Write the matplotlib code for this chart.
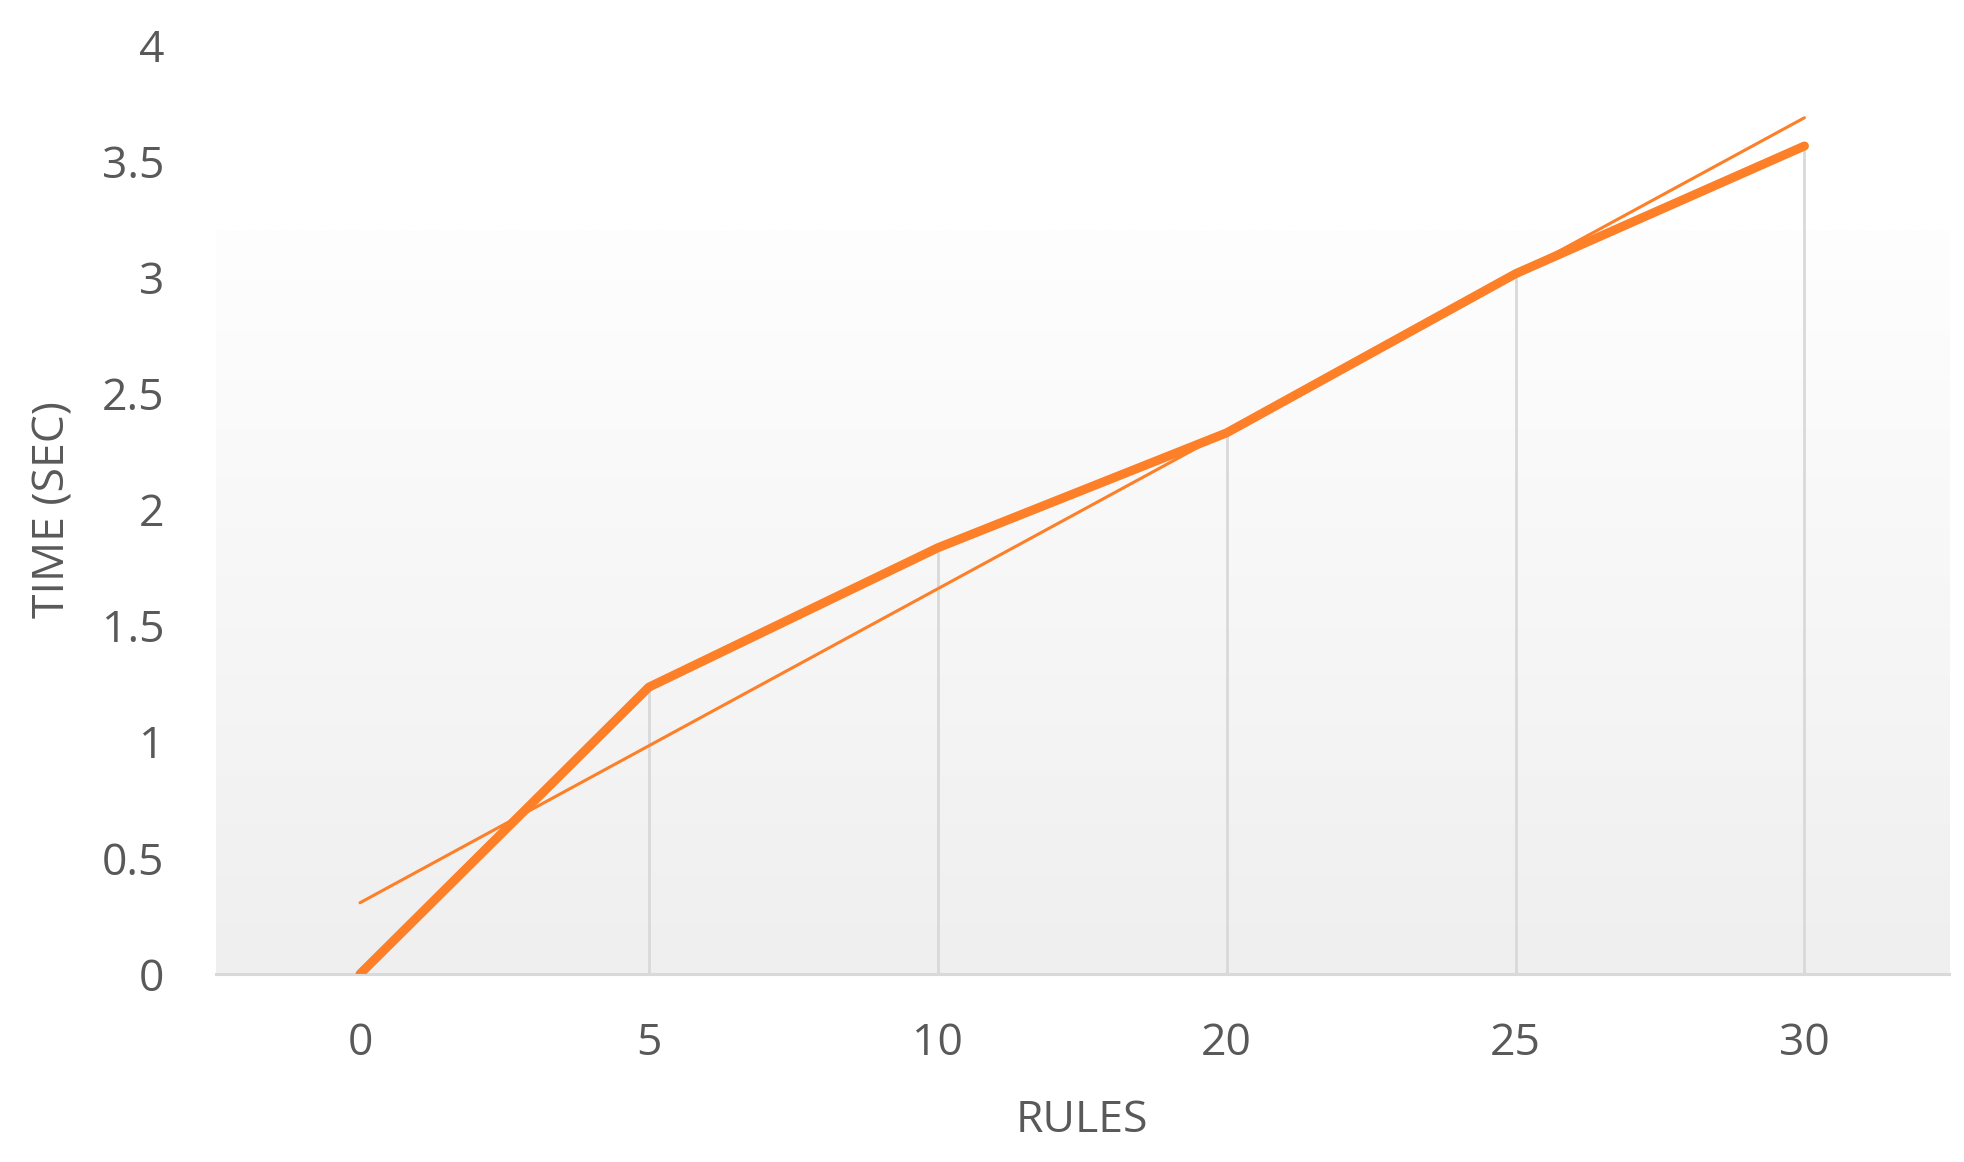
import numpy as np
import matplotlib
matplotlib.use("Agg")
import matplotlib.pyplot as plt
from matplotlib.colors import LinearSegmentedColormap

categories = ["0", "5", "10", "20", "25", "30"]
times = [0.0, 1.235, 1.835, 2.33, 3.015, 3.565]
y_ticks = [0, 0.5, 1, 1.5, 2, 2.5, 3, 3.5, 4]
x_label = "RULES"
y_label = "TIME (SEC)"

plt.rcParams['font.family'] = ['Open Sans', 'DejaVu Sans']
orange = '#fd7f27'
text_col = '#595959'

fig = plt.figure(figsize=(19.65, 11.62), dpi=100)
ax = fig.add_axes([0.1097, 0.1618, 0.9918 - 0.1097, 0.9613 - 0.1618])

x = np.arange(len(categories))

# background gradient
cmap = LinearSegmentedColormap.from_list('bg', ['#efefef', '#fefefe'])
grad = np.linspace(0, 1, 256).reshape(-1, 1)
ax.imshow(grad, extent=[-0.5, len(categories) - 0.5, 0, 3.2], origin='lower',
          aspect='auto', cmap=cmap, zorder=0, interpolation='bilinear')

# drop lines
ax.vlines(x, 0, times, color='#d9d9d9', lw=2.0, zorder=1)

# linear trendline
coef = np.polyfit(x, times, 1)
ax.plot(x, np.polyval(coef, x), color=orange, lw=2.2, solid_capstyle='round', zorder=2)

# data line
ax.plot(x, times, color=orange, lw=6.5, solid_capstyle='round',
        solid_joinstyle='round', zorder=3)

ax.set_xlim(-0.5, len(categories) - 0.5)
ax.set_ylim(0, 4)
ax.set_xticks(x)
ax.set_xticklabels(categories)
ax.set_yticks(y_ticks)
ax.set_yticklabels([f"{v:g}" for v in y_ticks])
ax.tick_params(axis='both', length=0, labelsize=32, colors=text_col)
ax.tick_params(axis='y', pad=37)
ax.tick_params(axis='x', pad=34)

for s in ['top', 'right', 'left']:
    ax.spines[s].set_visible(False)
ax.spines['bottom'].set_color('#d9d9d9')
ax.spines['bottom'].set_linewidth(2.2)
ax.spines['bottom'].set_zorder(1.5)

ax.set_xlabel(x_label, fontsize=32, color=text_col, va='center')
ax.xaxis.set_label_coords(0.5, -0.158)
ax.set_ylabel(y_label, fontsize=32, color=text_col, va='center')
ax.yaxis.set_label_coords(-0.0935, 0.5)

fig.savefig("out.png", dpi=100)
